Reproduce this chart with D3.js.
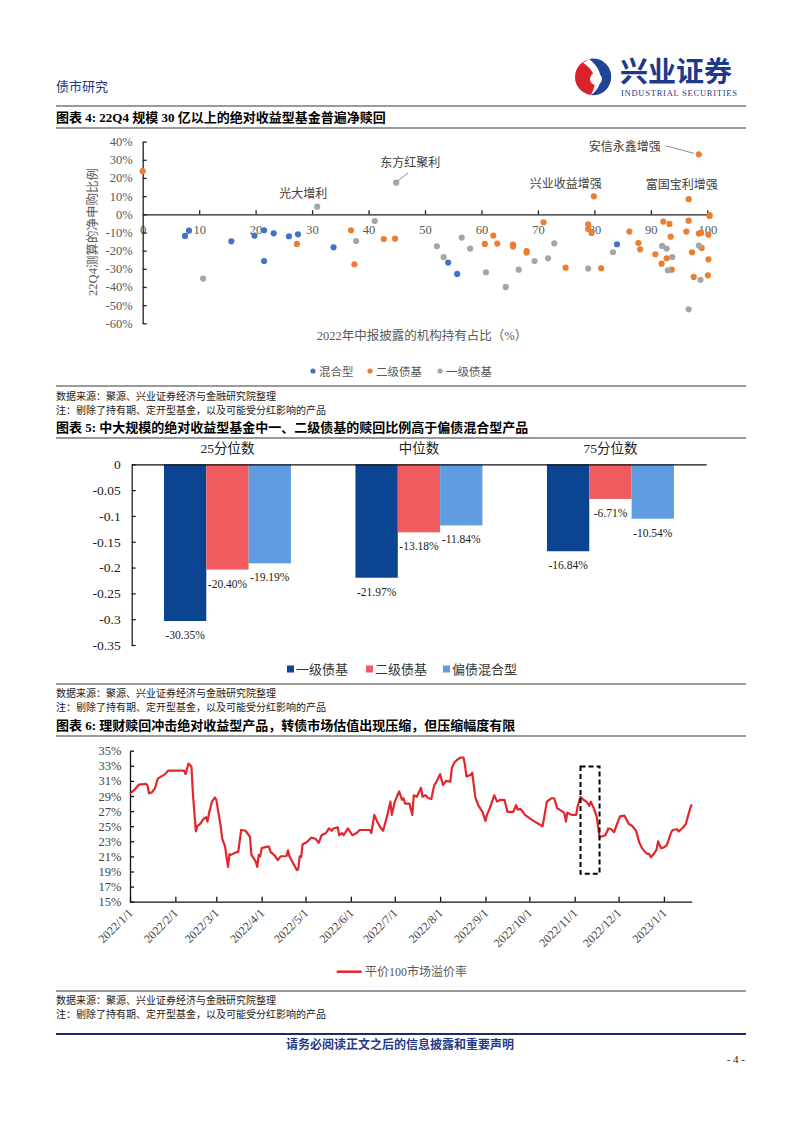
<!DOCTYPE html>
<html><head><meta charset="utf-8">
<script src="https://cdn.jsdelivr.net/npm/d3@7"></script>
<style>body{margin:0;background:#fff}</style>
</head><body>
<svg id="page" width="802" height="1133"></svg>
<script>
// ---------------- DATA ----------------
// Chart 4: scatter [institutional holding %, net subscription %]
const mixedFunds = [[7.5,-11.9],[8.2,-9.0],[15.7,-14.9],[19.8,-11.7],[21.5,-8.8],[21.5,-25.7],[23.2,-10.5],[25.9,-12.1],[27.5,-11.0],[33.8,-18.2],[54.1,-26.6],[55.7,-32.8],[84.0,-16.5]];
const secondaryFunds = [[0,23.7],[27.3,-16.3],[36.9,-8.8],[37.5,-27.5],[42.7,-13.6],[44.7,-13.4],[71.0,-4.4],[78.9,-5.5],[78.9,-8.1],[79.5,-10.3],[79.9,9.9],[62.1,-11.7],[60.6,-16.3],[62.8,-16.1],[65.6,-16.7],[65.6,-17.8],[68.0,-20.2],[68.0,-21.1],[74.9,-29.4],[81.2,-29.7],[86.2,-9.5],[87.8,-15.8],[88.1,-19.3],[90.8,-22.0],[91.9,-27.2],[92.2,-4.0],[93.3,-5.3],[93.5,-12.3],[92.8,-24.2],[93.7,-30.5],[96.3,-9.5],[96.7,-3.5],[96.7,8.3],[98.5,33.0],[98.5,-10.6],[98.9,-10.1],[100.2,-11.2],[99.0,-18.5],[97.3,-20.9],[100.2,-24.8],[97.6,-34.5],[100.1,-33.6],[100.4,-0.4],[100.4,-0.9]];
const primaryFunds = [[10.7,-35.4],[30.9,4.2],[37.8,-14.7],[41.1,-3.7],[44.9,17.4],[52.1,-17.6],[53.3,-23.5],[56.5,-12.8],[58.0,-18.9],[60.8,-31.9],[64.3,-40.0],[66.6,-30.5],[69.4,-25.7],[71.8,-24.2],[72.9,-16.0],[78.9,-29.9],[83.3,-20.9],[92.0,-17.4],[92.8,-18.9],[93.8,-23.5],[93.0,-30.8],[98.5,-17.2],[98.8,-36.1],[96.7,-52.3]];
const scatterSeries = ["混合型","二级债基","一级债基"];
const annotNames = ["光大增利","东方红聚利","兴业收益增强","安信永鑫增强","富国宝利增强"];
const annotPoints = [[30.9,4.2],[44.9,17.4],[79.9,9.9],[98.5,33.0],[96.7,8.3]];
const scatterXTicks = [0,10,20,30,40,50,60,70,80,90,100];
const scatterYTicks = [40,30,20,10,0,-10,-20,-30,-40,-50,-60];

// Chart 5: grouped bars
const quantileLabels = ["25分位数","中位数","75分位数"];
const barSeries = ["一级债基","二级债基","偏债混合型"];
const primaryBond = [-0.3035,-0.2197,-0.1684];
const secondaryBond = [-0.2040,-0.1318,-0.0671];
const mixedBond = [-0.1919,-0.1184,-0.1054];
const barYTicks = [0,-0.05,-0.1,-0.15,-0.2,-0.25,-0.3,-0.35];

// Chart 6: line
const premiumDates = ["2022-01-01","2022-01-04","2022-01-07","2022-01-12","2022-01-13","2022-01-14","2022-01-16","2022-01-18","2022-01-20","2022-01-25","2022-01-27","2022-02-07","2022-02-08","2022-02-10","2022-02-12","2022-02-13","2022-02-15","2022-02-16","2022-02-18","2022-02-20","2022-02-22","2022-02-23","2022-02-24","2022-02-26","2022-02-28","2022-03-01","2022-03-04","2022-03-05","2022-03-07","2022-03-09","2022-03-10","2022-03-11","2022-03-14","2022-03-16","2022-03-18","2022-03-21","2022-03-24","2022-03-25","2022-03-28","2022-03-29","2022-03-30","2022-03-31","2022-04-01","2022-04-05","2022-04-06","2022-04-07","2022-04-10","2022-04-12","2022-04-14","2022-04-18","2022-04-19","2022-04-20","2022-04-22","2022-04-25","2022-04-26","2022-04-27","2022-04-28","2022-04-29","2022-05-02","2022-05-05","2022-05-08","2022-05-10","2022-05-12","2022-05-15","2022-05-17","2022-05-19","2022-05-20","2022-05-23","2022-05-24","2022-05-26","2022-05-27","2022-05-30","2022-06-01","2022-06-02","2022-06-05","2022-06-07","2022-06-14","2022-06-15","2022-06-17","2022-06-19","2022-06-21","2022-06-23","2022-06-26","2022-06-28","2022-06-29","2022-07-01","2022-07-04","2022-07-06","2022-07-07","2022-07-08","2022-07-11","2022-07-13","2022-07-14","2022-07-16","2022-07-19","2022-07-20","2022-07-22","2022-07-24","2022-07-26","2022-07-28","2022-07-29","2022-07-31","2022-08-01","2022-08-03","2022-08-05","2022-08-08","2022-08-09","2022-08-11","2022-08-13","2022-08-15","2022-08-17","2022-08-18","2022-08-19","2022-08-22","2022-08-23","2022-08-25","2022-08-27","2022-08-30","2022-09-01","2022-09-02","2022-09-04","2022-09-07","2022-09-09","2022-09-11","2022-09-14","2022-09-16","2022-09-20","2022-09-22","2022-09-23","2022-09-25","2022-09-28","2022-10-03","2022-10-10","2022-10-11","2022-10-13","2022-10-16","2022-10-18","2022-10-20","2022-10-24","2022-10-25","2022-10-26","2022-10-27","2022-10-30","2022-11-02","2022-11-03","2022-11-05","2022-11-07","2022-11-09","2022-11-11","2022-11-12","2022-11-14","2022-11-16","2022-11-18","2022-11-19","2022-11-22","2022-11-24","2022-11-26","2022-11-28","2022-11-30","2022-12-02","2022-12-05","2022-12-08","2022-12-10","2022-12-13","2022-12-15","2022-12-17","2022-12-20","2022-12-22","2022-12-23","2022-12-25","2022-12-27","2022-12-28","2022-12-30","2023-01-01","2023-01-03","2023-01-06","2023-01-07","2023-01-10","2023-01-11","2023-01-14","2023-01-16","2023-01-17","2023-01-19","2023-01-20"];
const premiumValues = [29.35,29.8,30.5,30.6,30.4,29.35,29.5,30.0,31.3,31.9,32.35,32.35,31.9,33.3,32.9,29.35,24.3,25.0,25.3,25.9,26.2,25.6,26.7,28.25,28.8,28.5,25.0,23.4,22.3,19.6,21.3,21.2,21.5,21.6,24.5,24.4,23.6,21.2,20.3,19.6,21.2,21.0,22.1,22.3,22.3,21.6,21.1,20.5,21.0,21.05,21.8,21.0,20.3,19.2,19.3,21.0,20.9,22.6,22.9,23.5,23.3,22.8,23.8,24.1,24.7,24.4,24.7,24.85,23.8,24.1,23.8,24.7,24.1,23.8,24.1,24.5,24.5,24.1,26.5,25.6,24.9,24.4,26.5,28.25,26.5,28.25,29.6,28.5,28.7,28.0,28.0,26.5,29.1,28.9,30.1,28.9,29.1,28.7,28.6,30.45,30.7,31.5,31.9,30.45,31.0,30.9,32.7,33.5,33.85,34.1,34.1,33.1,31.6,31.8,32.1,28.9,27.8,26.9,25.7,26.5,27.4,29.1,28.25,28.5,28.5,26.9,26.9,27.8,27.2,27.3,26.5,25.8,25.0,26.0,28.25,28.7,28.7,27.4,26.9,26.7,25.6,26.8,26.5,26.5,27.6,28.9,28.5,28.25,27.7,28.25,27.4,26.3,23.6,23.6,23.8,24.7,24.6,24.2,25.3,26.3,26.4,25.3,25.1,24.4,22.9,22.1,21.4,21.3,20.9,21.3,21.9,23.0,22.1,22.2,22.5,24.2,24.5,24.6,24.3,24.8,25.3,26.0,27.4,27.9];
const premiumName = "平价100市场溢价率";
const axisDates = ["2022-01-01","2023-01-20"];
const premiumYTicks = [15,17,19,21,23,25,27,29,31,33,35];
const boxDates = ["2022-11-05","2022-11-18"];
const boxRange = [18.7, 32.9];

// ---------------- DRAW ----------------
const SERIF = '"Liberation Serif","Noto Sans CJK SC",serif';
const CJK = '"Noto Sans CJK SC",sans-serif';
const svg = d3.select("#page");
svg.append("rect").attr("width",802).attr("height",1133).attr("fill","#fff");

function txt(g, x, y, s, o = {}) {
  return g.append("text").attr("x", x).attr("y", y).text(s)
    .attr("font-family", o.family || SERIF)
    .attr("font-size", o.size || 12)
    .attr("font-weight", o.weight || "normal")
    .attr("fill", o.fill || "#000")
    .attr("text-anchor", o.anchor || "start");
}
function hline(x1, x2, y, color, w) {
  svg.append("line").attr("x1", x1).attr("x2", x2).attr("y1", y).attr("y2", y)
    .attr("stroke", color).attr("stroke-width", w);
}

// Header
txt(svg, 56, 91, "债市研究", {family: CJK, size: 13, fill: "#1f3a78"});
const logo = svg.append("g").attr("transform", "translate(593,77)");
logo.append("circle").attr("r", 18).attr("fill", "#d9232b");
logo.append("path").attr("d", "M-4,-18 A18,18 0 0 1 18,2 A18,18 0 0 1 -2,18 C10,10 12,-6 -4,-18 Z").attr("fill", "#1d4598");
logo.append("path").attr("d", "M-4,-18 C12,-6 10,10 -2,18 C4,8 4,-6 -10,-14 Z").attr("fill", "#fff");
logo.append("circle").attr("cx", 3).attr("cy", 2).attr("r", 6).attr("fill", "#fff");
txt(svg, 620, 82, "兴业证券", {family: CJK, size: 28, weight: "bold", fill: "#1d3a8a"});
txt(svg, 621, 96, "INDUSTRIAL SECURITIES", {size: 8.5, fill: "#1d3a8a"}).attr("textLength", 116);
hline(56, 746, 106, "#9a9a9a", 2);

// ---------- Chart 4 ----------
txt(svg, 56, 122, "图表 4: 22Q4 规模 30 亿以上的绝对收益型基金普遍净赎回", {size: 13, weight: "bold"});
hline(56, 746, 128, "#9a9a9a", 2);

const sx = d3.scaleLinear().domain([0, 100]).range([142.7, 707.3]);
const sy = d3.scaleLinear().domain([-60, 40]).range([323.3, 141.6]);
const c4 = svg.append("g");
const gx4 = c4.append("g").attr("transform", `translate(0,${sy(0)})`)
  .call(d3.axisBottom(sx).tickValues(scatterXTicks).tickSizeInner(-4).tickSizeOuter(0).tickPadding(11).tickFormat(d3.format("d")));
const gy4 = c4.append("g").attr("transform", `translate(${sx(0)},0)`)
  .call(d3.axisLeft(sy).tickValues(scatterYTicks).tickSizeInner(-4).tickSizeOuter(0).tickPadding(10).tickFormat(d => d + "%"));
[gx4, gy4].forEach(g => {
  g.selectAll("path,line").attr("stroke", "#222").attr("stroke-width", 1.3);
  g.selectAll("text").attr("font-family", SERIF).attr("font-size", 12.5).attr("fill", "#595959");
});
gx4.selectAll(".tick").filter(d => d === 0).select("line").remove();

const scatterColors = ["#4472c4", "#ed7d31", "#a5a5a5"];
[mixedFunds, secondaryFunds, primaryFunds].forEach((arr, i) => {
  c4.append("g").selectAll("circle").data(arr).join("circle")
    .attr("cx", d => sx(d[0])).attr("cy", d => sy(d[1])).attr("r", 3.1)
    .attr("fill", scatterColors[i]);
});
// annotations
const annotOffsets = [[-14, -9], [14, -16], [-28, -8], [-74, -3], [-7, -10]];
annotNames.forEach((n, i) => {
  const px = sx(annotPoints[i][0]), py = sy(annotPoints[i][1]);
  txt(c4, px + annotOffsets[i][0], py + annotOffsets[i][1], n, {family: CJK, size: 12, fill: "#404040", anchor: "middle"});
});
{
  const p1 = [sx(annotPoints[1][0]), sy(annotPoints[1][1])];
  c4.append("line").attr("x1", p1[0] + 2).attr("y1", p1[1] - 2).attr("x2", p1[0] + 12).attr("y2", p1[1] - 10).attr("stroke", "#8c8c8c");
  const p3 = [sx(annotPoints[3][0]), sy(annotPoints[3][1])];
  c4.append("line").attr("x1", p3[0] - 5).attr("y1", p3[1] - 1).attr("x2", p3[0] - 33).attr("y2", p3[1] - 8.5).attr("stroke", "#8c8c8c");
}
txt(c4, 422, 340, "2022年中报披露的机构持有占比（%）", {size: 12.5, fill: "#595959", anchor: "middle"});
txt(c4, 0, 0, "22Q4测算的净申购比例", {size: 12.5, fill: "#595959", anchor: "middle"})
  .attr("transform", "translate(97,232) rotate(-90)");
const leg4x = [313, 370, 440];
scatterSeries.forEach((n, i) => {
  c4.append("circle").attr("cx", leg4x[i]).attr("cy", 371).attr("r", 2.6).attr("fill", scatterColors[i]);
  txt(c4, leg4x[i] + 6, 375.5, n, {family: CJK, size: 11.5, fill: "#595959"});
});

hline(56, 746, 386, "#9a9a9a", 2);
txt(svg, 56, 400, "数据来源：聚源、兴业证券经济与金融研究院整理", {family: CJK, size: 10, fill: "#222"});
txt(svg, 56, 414, "注：剔除了持有期、定开型基金，以及可能受分红影响的产品", {family: CJK, size: 10, fill: "#222"});

// ---------- Chart 5 ----------
txt(svg, 56, 432, "图表 5: 中大规模的绝对收益型基金中一、二级债基的赎回比例高于偏债混合型产品", {size: 13, weight: "bold"});
hline(56, 746, 438, "#9a9a9a", 2);

const by = d3.scaleLinear().domain([-0.35, 0]).range([645, 464.3]);
const bx0 = d3.scaleBand().domain(quantileLabels).range([131.7, 706.2]);
const bx1 = d3.scaleBand().domain(barSeries).range([0, bx0.bandwidth()]).paddingInner(0).paddingOuter(0.762);
const barColors = ["#0b4592", "#ef5b5f", "#5f9de0"];
const barData = [primaryBond, secondaryBond, mixedBond];
const c5 = svg.append("g");
barSeries.forEach((s, si) => {
  quantileLabels.forEach((q, qi) => {
    const v = barData[si][qi];
    const x = bx0(q) + bx1(s);
    c5.append("rect").attr("x", x).attr("y", by(0)).attr("width", bx1.bandwidth())
      .attr("height", by(v) - by(0)).attr("fill", barColors[si]);
    txt(c5, x + bx1.bandwidth() / 2, by(v) + 18, (v * 100).toFixed(2) + "%", {size: 11.5, fill: "#222", anchor: "middle"});
  });
});
const gy5 = c5.append("g").attr("transform", `translate(131.7,0)`)
  .call(d3.axisLeft(by).tickValues(barYTicks).tickSizeInner(-4).tickSizeOuter(0).tickPadding(11)
    .tickFormat(d => d === 0 ? "0" : String(+d.toFixed(2))));
gy5.selectAll("path,line").attr("stroke", "#111").attr("stroke-width", 1.2);
gy5.selectAll("text").attr("font-family", SERIF).attr("font-size", 13.5).attr("fill", "#222");
const gx5 = c5.append("g").attr("transform", `translate(0,${by(0)})`)
  .call(d3.axisTop(bx0).tickSize(0).tickSizeOuter(0).tickPadding(11));
gx5.select("path").attr("stroke", "#111").attr("stroke-width", 1.2);
gx5.selectAll("text").attr("font-family", SERIF).attr("font-size", 13.5).attr("fill", "#222");
const leg5x = [287, 366, 443];
barSeries.forEach((n, i) => {
  c5.append("rect").attr("x", leg5x[i]).attr("y", 665.5).attr("width", 7).attr("height", 7).attr("fill", barColors[i]);
  txt(c5, leg5x[i] + 9, 673.5, n, {family: CJK, size: 13, fill: "#333"});
});

hline(56, 746, 684, "#9a9a9a", 2);
txt(svg, 56, 697, "数据来源：聚源、兴业证券经济与金融研究院整理", {family: CJK, size: 10, fill: "#222"});
txt(svg, 56, 711, "注：剔除了持有期、定开型基金，以及可能受分红影响的产品", {family: CJK, size: 10, fill: "#222"});

// ---------- Chart 6 ----------
txt(svg, 56, 730, "图表 6: 理财赎回冲击绝对收益型产品，转债市场估值出现压缩，但压缩幅度有限", {size: 13, weight: "bold"});
hline(56, 746, 736, "#9a9a9a", 2);

const parse = d3.timeParse("%Y-%m-%d");
const lx = d3.scaleTime().domain(axisDates.map(parse)).range([130, 691.7]);
const ly = d3.scaleLinear().domain([15, 35]).range([901.7, 750.7]);
const c6 = svg.append("g");
const monthTicks = d3.timeMonth.range(parse("2022-01-01"), parse("2023-01-02"));
const gx6 = c6.append("g").attr("transform", `translate(0,${ly(15)})`)
  .call(d3.axisBottom(lx).tickValues(monthTicks).tickSizeInner(-5).tickSizeOuter(0).tickFormat(d3.timeFormat("%Y/%-m/%-d")));
gx6.selectAll("path,line").attr("stroke", "#111").attr("stroke-width", 1.3);
gx6.selectAll("text").attr("font-family", SERIF).attr("font-size", 12).attr("fill", "#444")
  .attr("text-anchor", "end").attr("dy", null).attr("y", null)
  .attr("transform", "translate(3,12) rotate(-45)");
const gy6 = c6.append("g").attr("transform", `translate(130,0)`)
  .call(d3.axisLeft(ly).tickValues(premiumYTicks).tickSizeInner(-4).tickSizeOuter(0).tickPadding(8.5).tickFormat(d => d + "%"));
gy6.selectAll("path,line").attr("stroke", "#111").attr("stroke-width", 1.3);
gy6.selectAll("text").attr("font-family", SERIF).attr("font-size", 12.5).attr("fill", "#444");

const series = premiumDates.map((d, i) => [parse(d), premiumValues[i]]);
c6.append("path").datum(series)
  .attr("d", d3.line().x(d => lx(d[0])).y(d => ly(d[1])))
  .attr("fill", "none").attr("stroke", "#e3262b").attr("stroke-width", 2.2).attr("stroke-linejoin", "round");
c6.append("rect")
  .attr("x", lx(parse(boxDates[0]))).attr("y", ly(boxRange[1]))
  .attr("width", lx(parse(boxDates[1])) - lx(parse(boxDates[0])))
  .attr("height", ly(boxRange[0]) - ly(boxRange[1]))
  .attr("fill", "none").attr("stroke", "#000").attr("stroke-width", 2).attr("stroke-dasharray", "5,3");
c6.append("line").attr("x1", 336.7).attr("x2", 361.7).attr("y1", 971.7).attr("y2", 971.7).attr("stroke", "#e3262b").attr("stroke-width", 2.5);
txt(c6, 365, 976, premiumName, {size: 12, fill: "#595959"});

hline(56, 746, 991, "#9a9a9a", 2);
txt(svg, 56, 1004, "数据来源：聚源、兴业证券经济与金融研究院整理", {family: CJK, size: 10, fill: "#222"});
txt(svg, 56, 1018, "注：剔除了持有期、定开型基金，以及可能受分红影响的产品", {family: CJK, size: 10, fill: "#222"});

// Footer
hline(56, 746, 1034, "#1f2a6b", 2);
txt(svg, 400, 1049, "请务必阅读正文之后的信息披露和重要声明", {family: CJK, size: 12, weight: "bold", fill: "#1f3a8a", anchor: "middle"});
txt(svg, 745, 1063, "- 4 -", {size: 11, fill: "#222", anchor: "end"});
</script>
</body></html>
